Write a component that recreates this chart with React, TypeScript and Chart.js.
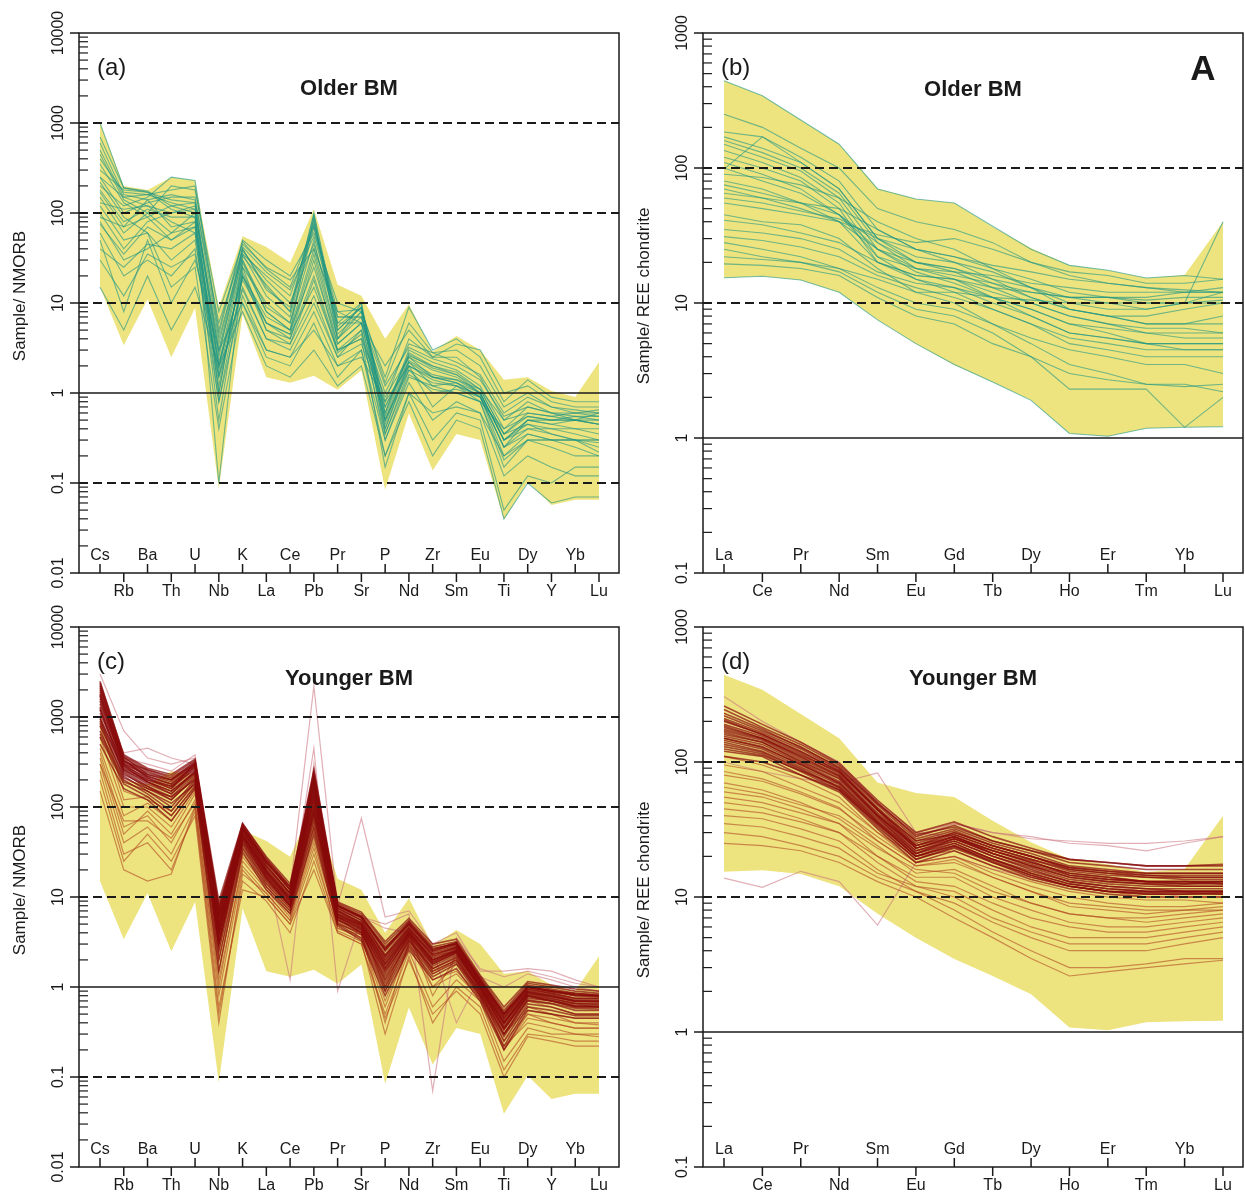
import React, { useEffect, useRef } from 'react';
import { Chart, registerables } from 'chart.js';

Chart.register(...registerables);

const FONT = '"Liberation Sans", Arial, Helvetica, sans-serif';
const YELLOW = 'rgb(237,228,128)';
const TEAL = 'rgba(28,148,132,0.6)';
const RED_DARK = 'rgba(135,10,10,0.7)';
const RED_MID = 'rgba(178,72,32,0.6)';
const RED_PALE = 'rgba(200,110,120,0.55)';

// ---------- categories / ticks ----------
const spiderElements = ['Cs', 'Rb', 'Ba', 'Th', 'U', 'Nb', 'K', 'La', 'Ce', 'Pb', 'Pr', 'Sr', 'P', 'Nd', 'Zr', 'Sm', 'Eu', 'Ti', 'Dy', 'Y', 'Yb', 'Lu'];
const reeElements = ['La', 'Ce', 'Pr', 'Nd', 'Sm', 'Eu', 'Gd', 'Tb', 'Dy', 'Ho', 'Er', 'Tm', 'Yb', 'Lu'];
const spiderTicks = [0.01, 0.1, 1, 10, 100, 1000, 10000];
const reeTicks = [0.1, 1, 10, 100, 1000];
const spiderDashed = [0.1, 10, 100, 1000];
const reeDashed = [10, 100];

// ---------- Older BM envelope (yellow field) ----------
const spiderEnvelopeUpper = [1000, 200, 180, 250, 230, 9, 55, 42, 28, 110, 16, 12, 4.0, 9.7, 2.9, 4.3, 3.0, 1.4, 1.5, 1.05, 0.9, 2.2];
const spiderEnvelopeLower = [15, 3.4, 11, 2.5, 8.8, 0.087, 7.5, 1.5, 1.3, 1.55, 1.09, 1.78, 0.084, 0.59, 0.138, 0.35, 0.3, 0.039, 0.103, 0.057, 0.065, 0.065];
const reeEnvelopeUpper = [443, 343, 227, 150, 70.6, 59, 55, 36.7, 25.4, 19, 17.5, 15.3, 16.1, 40];
const reeEnvelopeLower = [15.4, 15.8, 14.8, 12, 7.5, 5.0, 3.47, 2.6, 1.9, 1.08, 1.03, 1.18, 1.2, 1.21];

// ---------- (a) Older BM, N-MORB normalised ----------
const olderSpiderSamples = [
  [1000, 190, 175, 120, 100, 3, 40, 15, 8, 100, 6, 10, 0.5, 2.5, 1.8, 1.5, 1.0, 0.3, 0.5, 0.45, 0.5, 0.5],
  [300, 180, 170, 140, 130, 2, 35, 12, 7, 80, 5, 9, 0.6, 2.8, 2.0, 1.6, 1.1, 0.35, 0.6, 0.55, 0.6, 0.55],
  [200, 120, 150, 250, 230, 5, 50, 30, 20, 60, 10, 8, 1.5, 9, 3, 4, 2.5, 0.8, 1.4, 0.9, 0.8, 0.8],
  [150, 60, 100, 200, 180, 8, 45, 25, 18, 40, 8, 6, 2, 5, 2.5, 3.5, 3, 1, 1.2, 0.8, 0.7, 0.7],
  [100, 40, 80, 100, 120, 1, 30, 8, 5, 90, 4, 10, 0.4, 2.2, 1.5, 1.3, 0.9, 0.25, 0.4, 0.4, 0.4, 0.4],
  [500, 150, 120, 80, 60, 0.5, 20, 6, 4, 30, 3, 5, 0.3, 1.5, 1.2, 1.0, 0.8, 0.15, 0.3, 0.3, 0.3, 0.3],
  [80, 30, 40, 60, 100, 0.1, 25, 5, 4, 20, 3, 4, 0.15, 1.0, 0.3, 0.6, 0.5, 0.05, 0.12, 0.1, 0.15, 0.15],
  [50, 8, 50, 10, 30, 3, 10, 3, 2.5, 5, 2, 2.5, 0.8, 2, 0.7, 1.2, 0.8, 0.4, 0.7, 0.6, 0.5, 0.6],
  [15, 5, 20, 5, 15, 2, 8, 2, 1.5, 3, 1.2, 2, 0.2, 0.8, 0.2, 0.5, 0.4, 0.04, 0.1, 0.06, 0.07, 0.07],
  [250, 100, 130, 150, 150, 4, 35, 20, 12, 70, 7, 7, 0.8, 4, 2.5, 2.5, 1.5, 0.5, 0.8, 0.6, 0.6, 0.6],
  [400, 170, 160, 130, 110, 2.5, 40, 14, 9, 95, 5.5, 9, 0.55, 2.7, 1.9, 1.6, 1.0, 0.3, 0.5, 0.5, 0.55, 0.5],
  [120, 50, 60, 30, 50, 1.5, 15, 4, 3, 10, 2.5, 5, 0.5, 1.8, 1.0, 1.1, 0.9, 0.25, 0.5, 0.45, 0.4, 0.35],
  [60, 20, 30, 20, 40, 0.8, 12, 3, 2.5, 8, 2, 3, 0.3, 1.3, 0.5, 0.8, 0.6, 0.2, 0.35, 0.3, 0.3, 0.25],
  [180, 80, 110, 90, 90, 1.2, 25, 10, 6, 50, 4, 7, 0.6, 3, 2.2, 1.8, 1.2, 0.4, 0.55, 0.5, 0.5, 0.45],
  [90, 70, 140, 160, 140, 6, 38, 18, 10, 45, 6, 6, 1.0, 3.5, 2.8, 2.2, 1.6, 0.6, 0.9, 0.7, 0.65, 0.6],
  [700, 190, 170, 110, 90, 1.8, 30, 9, 6, 70, 4.5, 8, 0.45, 2.3, 1.6, 1.4, 1.0, 0.3, 0.45, 0.4, 0.35, 0.3],
  [350, 130, 90, 50, 70, 0.8, 20, 7, 5, 25, 3.5, 6, 0.5, 2.0, 1.4, 1.2, 0.9, 0.2, 0.3, 0.25, 0.2, 0.2],
  [40, 25, 45, 40, 60, 2.2, 18, 6, 4.5, 15, 3, 4, 0.9, 2.5, 1.5, 1.4, 1.1, 0.5, 0.6, 0.55, 0.5, 0.45],
  [220, 90, 60, 15, 25, 0.4, 10, 2.5, 2, 6, 1.5, 3, 0.2, 1.0, 0.6, 0.7, 0.6, 0.12, 0.2, 0.15, 0.12, 0.12],
  [130, 110, 120, 100, 110, 3.5, 42, 22, 14, 55, 7, 7, 1.2, 3.2, 2.4, 2.0, 1.4, 0.55, 0.7, 0.6, 0.55, 0.55],
  [600, 160, 140, 70, 80, 1.0, 28, 8, 5, 40, 4, 8, 0.35, 1.8, 1.3, 1.2, 0.95, 0.25, 0.35, 0.3, 0.3, 0.28],
  [30, 12, 35, 25, 35, 1.5, 14, 4, 3.5, 12, 2.5, 3.5, 0.7, 2.2, 1.2, 1.3, 0.9, 0.35, 0.45, 0.35, 0.3, 0.3],
  [170, 70, 90, 120, 130, 2.8, 33, 16, 8, 85, 5, 9, 0.7, 2.6, 2.0, 1.7, 1.1, 0.35, 0.55, 0.5, 0.5, 0.45],
  [450, 140, 100, 60, 70, 1.6, 22, 6, 4.5, 35, 3.5, 6, 0.4, 2.0, 1.5, 1.3, 1.0, 0.3, 0.4, 0.35, 0.3, 0.22],
  [250, 150, 160, 180, 200, 4.5, 48, 24, 15, 75, 8, 8.5, 1.3, 6, 2.8, 3, 2, 0.7, 1.0, 0.7, 0.6, 0.65],
  [75, 35, 70, 50, 80, 2, 20, 5, 3.5, 18, 2.8, 4.5, 0.35, 1.6, 1.1, 1.0, 0.8, 0.18, 0.3, 0.3, 0.25, 0.2],
];

// ---------- (b) Older BM, chondrite normalised ----------
const olderReeSamples = [
  [443, 343, 227, 150, 70, 59, 55, 37, 25, 19, 17.5, 15.3, 16, 15],
  [250, 200, 140, 100, 50, 40, 35, 28, 20, 16, 14, 13, 12, 12],
  [185, 170, 120, 80, 35, 25, 22, 18, 15, 12, 11, 10, 10, 10.5],
  [170, 140, 110, 70, 30, 20, 18, 14, 11, 9, 8, 7, 7, 7],
  [150, 120, 95, 60, 25, 17, 14, 11, 9, 7, 6.5, 6, 6, 6],
  [135, 110, 85, 55, 22, 15, 12, 9, 7, 5.5, 5, 4.5, 4.5, 4.5],
  [120, 100, 80, 50, 20, 16, 15, 13, 12, 11, 11, 10.5, 11, 11],
  [98, 170, 110, 70, 30, 22, 20, 17, 13, 11, 10, 9, 10, 12],
  [80, 70, 55, 40, 20, 15, 13, 10, 8, 6, 5.5, 5, 5, 5],
  [70, 60, 50, 40, 25, 18, 16, 14, 12, 11, 11, 11, 12, 13],
  [60, 55, 48, 42, 30, 25, 22, 19, 17, 15, 14, 13, 12.5, 12],
  [55, 50, 45, 40, 32, 28, 30, 25, 20, 17, 16, 14, 14, 15],
  [41, 38, 33, 28, 20, 16, 15, 12, 10, 8, 7, 6.5, 6.5, 6],
  [31, 29, 26, 22, 16, 13, 11, 9, 7, 5, 4.5, 4, 4, 4],
  [28, 25, 22, 18, 13, 10, 9, 7, 5.5, 4.5, 4, 3.5, 3.5, 3],
  [25, 22, 20, 18, 15, 12, 12, 11, 10.5, 10, 10, 10, 10, 10],
  [19.5, 19, 18, 16, 11, 8, 7, 5, 4, 3, 2.7, 2.5, 2.5, 2.2],
  [15.4, 15.8, 14.8, 12, 7.5, 5, 3.5, 2.6, 1.9, 1.08, 1.03, 1.18, 1.2, 1.21],
  [90, 85, 75, 60, 40, 30, 25, 18, 13, 9, 8, 8, 9, 10],
  [110, 90, 70, 45, 22, 18, 17, 16, 14, 13, 12, 12, 12, 12],
  [65, 60, 55, 50, 35, 25, 20, 15, 11, 9, 8, 7, 7, 8],
  [45, 40, 38, 30, 18, 12, 10, 7, 5, 3.5, 3, 2.5, 2.4, 2.5],
  [100, 80, 65, 45, 25, 20, 18, 15, 13, 10, 9, 9, 10, 40],
  [160, 130, 100, 65, 28, 20, 17, 13, 10, 8, 7, 6, 5.5, 5.5],
  [35, 33, 30, 25, 17, 14, 13, 11, 9, 7, 6, 5, 5, 5],
  [75, 65, 55, 45, 28, 18, 15, 11, 8, 6, 5.5, 5, 4.5, 4.5],
  [22, 21, 20, 17, 12, 9, 8, 6, 4, 2.3, 2.3, 2.3, 1.2, 2.0],
];

// ---------- (c) Younger BM, N-MORB normalised ----------
const youngerSpiderDark = [
  [2300, 350, 250, 200, 300, 6, 60, 25, 12, 200, 8, 6, 2.5, 5, 2.5, 3, 1.2, 0.5, 1.0, 0.9, 0.8, 0.8],
  [2000, 330, 220, 180, 280, 5, 55, 22, 11, 180, 7.5, 5.5, 2.2, 4.5, 2.2, 2.8, 1.1, 0.45, 0.95, 0.85, 0.75, 0.75],
  [1800, 300, 200, 170, 260, 4.5, 52, 20, 10, 160, 7, 5, 2, 4.2, 2, 2.6, 1.05, 0.4, 0.9, 0.8, 0.7, 0.7],
  [1500, 280, 190, 150, 250, 4, 50, 19, 9.5, 140, 6.5, 4.8, 1.8, 4, 1.9, 2.5, 1.0, 0.38, 0.85, 0.75, 0.65, 0.65],
  [1200, 260, 180, 140, 240, 3.5, 48, 18, 9, 120, 6.2, 4.5, 1.6, 3.8, 1.8, 2.4, 0.95, 0.35, 0.8, 0.7, 0.6, 0.6],
  [1000, 250, 170, 130, 230, 3, 45, 17, 8.5, 100, 6, 4.3, 1.5, 3.6, 1.7, 2.3, 0.9, 0.33, 0.8, 0.72, 0.62, 0.62],
  [2500, 370, 260, 220, 330, 7, 65, 28, 14, 220, 8.5, 6.5, 3, 5.5, 2.8, 3.2, 1.3, 0.55, 1.1, 1.0, 0.9, 0.85],
  [900, 240, 160, 120, 220, 2.5, 42, 16, 8, 90, 5.8, 4, 1.3, 3.4, 1.6, 2.2, 0.85, 0.3, 0.75, 0.7, 0.6, 0.6],
  [1600, 300, 230, 190, 290, 6, 58, 24, 13, 150, 7.8, 5.8, 2.3, 4.8, 2.4, 2.9, 1.15, 0.48, 0.98, 0.88, 0.8, 0.78],
  [800, 220, 150, 100, 200, 4, 40, 15, 8, 80, 5.5, 4, 1.2, 3.2, 1.5, 2.0, 0.8, 0.28, 0.7, 0.65, 0.55, 0.55],
  [2200, 340, 210, 160, 310, 8, 62, 23, 11, 250, 8, 6, 2.8, 5, 2.6, 3.1, 1.25, 0.5, 1.0, 0.9, 0.85, 0.8],
  [1300, 270, 200, 160, 270, 5.5, 55, 21, 10.5, 130, 7, 5.2, 1.9, 4.3, 2.1, 2.7, 1.1, 0.42, 0.88, 0.8, 0.7, 0.7],
  [700, 200, 140, 90, 190, 3, 38, 14, 7.5, 70, 5.2, 3.8, 1.0, 3, 1.4, 1.9, 0.8, 0.25, 0.65, 0.6, 0.5, 0.5],
  [1900, 320, 240, 200, 320, 6.5, 60, 26, 13, 190, 8.2, 6.2, 2.6, 5.2, 2.7, 3.0, 1.2, 0.52, 1.05, 0.95, 0.85, 0.82],
  [1100, 290, 210, 170, 280, 5, 56, 20, 10, 170, 7.2, 5.2, 2.1, 4.4, 2.3, 2.7, 1.1, 0.44, 0.92, 0.82, 0.72, 0.72],
  [600, 180, 130, 80, 170, 2, 35, 13, 7, 60, 5, 3.5, 0.9, 2.8, 1.3, 1.8, 0.75, 0.22, 0.6, 0.55, 0.48, 0.48],
  [2100, 360, 230, 200, 300, 7, 63, 25, 12, 210, 8, 6, 2.6, 5, 2.5, 3, 1.2, 0.5, 1.0, 0.92, 0.82, 0.8],
  [1400, 310, 220, 180, 290, 6, 57, 22, 11, 175, 7.5, 5.5, 2.2, 4.6, 2.3, 2.8, 1.15, 0.46, 0.95, 0.85, 0.75, 0.75],
  [1700, 290, 190, 140, 250, 4, 50, 19, 9.5, 140, 6.8, 5, 1.8, 4.1, 2, 2.6, 1.05, 0.4, 0.88, 0.78, 0.68, 0.68],
  [500, 160, 120, 70, 160, 1.5, 32, 12, 6.5, 50, 4.8, 3.3, 0.8, 2.6, 1.2, 1.6, 0.7, 0.2, 0.55, 0.5, 0.45, 0.45],
  [1750, 320, 260, 210, 310, 7.5, 58, 24, 12, 230, 8, 6, 2.7, 5.3, 2.6, 3.1, 1.2, 0.5, 1.0, 0.9, 0.82, 0.8],
  [950, 260, 190, 150, 240, 4.5, 50, 18, 9, 110, 6.3, 4.6, 1.7, 3.9, 1.9, 2.5, 1.0, 0.36, 0.82, 0.74, 0.66, 0.64],
  [1250, 230, 170, 120, 210, 3.8, 46, 17, 8.5, 95, 6, 4.4, 1.4, 3.7, 1.8, 2.4, 0.95, 0.34, 0.78, 0.7, 0.62, 0.6],
  [650, 190, 150, 110, 180, 3.2, 44, 16, 8, 85, 5.6, 4.2, 1.1, 3.3, 1.6, 2.1, 0.85, 0.3, 0.72, 0.66, 0.58, 0.57],
  [2400, 380, 270, 230, 340, 9, 66, 27, 13, 260, 8.8, 6.8, 3.2, 5.8, 3.0, 3.4, 1.35, 0.6, 1.15, 1.05, 0.95, 0.9],
  [850, 210, 160, 130, 200, 5, 48, 19, 9.5, 120, 6.5, 4.8, 1.6, 4, 2.0, 2.5, 1.0, 0.4, 0.85, 0.78, 0.7, 0.68],
];
const youngerSpiderMid = [
  [400, 60, 80, 40, 120, 1, 25, 12, 6, 40, 5, 4, 1.5, 3.5, 1.5, 2, 0.9, 0.25, 0.5, 0.45, 0.4, 0.4],
  [300, 40, 60, 30, 100, 0.8, 20, 10, 5, 30, 4.5, 3.5, 0.6, 3, 1.2, 1.5, 0.8, 0.2, 0.45, 0.4, 0.35, 0.35],
  [250, 30, 40, 20, 90, 0.5, 15, 9, 4, 25, 4, 3, 0.5, 2.5, 0.6, 1.2, 0.7, 0.15, 0.35, 0.3, 0.3, 0.3],
  [600, 100, 100, 60, 150, 2, 30, 14, 7, 60, 5.5, 4.5, 1.0, 3.8, 1.0, 1.8, 0.9, 0.3, 0.6, 0.5, 0.45, 0.45],
  [800, 120, 130, 80, 170, 3, 40, 16, 8, 80, 6, 5, 1.2, 4, 0.8, 2.2, 1.0, 0.2, 0.5, 0.4, 0.35, 0.35],
  [350, 50, 90, 50, 140, 1.5, 28, 13, 6.5, 45, 5, 4, 0.4, 3.2, 1.8, 2.4, 1.0, 0.3, 0.55, 0.5, 0.4, 0.38],
  [200, 25, 50, 25, 80, 0.4, 18, 11, 5.5, 35, 4.2, 3.2, 0.3, 2.2, 0.4, 1.0, 0.6, 0.12, 0.3, 0.28, 0.25, 0.25],
  [450, 80, 110, 70, 160, 2.5, 35, 15, 7.5, 70, 5.8, 4.8, 0.9, 3.6, 1.4, 2.0, 0.9, 0.35, 0.7, 0.6, 0.5, 0.5],
  [1000, 150, 120, 90, 180, 3, 45, 17, 8, 100, 6.5, 5, 2, 4.5, 2.2, 2.5, 1.0, 0.4, 0.8, 0.7, 0.65, 0.6],
  [300, 70, 70, 45, 110, 1.2, 22, 11, 5.5, 55, 4.5, 3.8, 0.7, 2.8, 1.0, 1.4, 0.75, 0.22, 0.4, 0.35, 0.3, 0.28],
  [150, 20, 15, 18, 100, 0.6, 12, 10, 5, 20, 4, 3, 0.45, 2, 0.5, 0.9, 0.5, 0.1, 0.28, 0.25, 0.22, 0.22],
];
const youngerSpiderPale = [
  [3000, 700, 350, 300, 350, 8, 65, 25, 12, 2200, 8, 75, 6, 7, 3, 4, 1.5, 1.5, 1.6, 1.5, 1.2, 1.0],
  [1500, 400, 450, 350, 300, 7, 55, 20, 9, 450, 0.9, 6, 5, 6.5, 0.07, 3.5, 1.6, 1.3, 1.5, 1.3, 1.1, 1.0],
  [1200, 350, 300, 250, 380, 6, 50, 20, 1.2, 300, 7, 6, 4.5, 4, 2.5, 0.4, 1.3, 1.0, 1.4, 1.2, 1.0, 0.9],
];

// ---------- (d) Younger BM, chondrite normalised ----------
const youngerReeDark = [
  [200, 160, 120, 85, 45, 25, 30, 24, 20, 16, 15, 14, 14, 14],
  [180, 150, 110, 80, 42, 24, 28, 22, 18, 15, 14, 13, 13, 13],
  [160, 140, 100, 75, 40, 22, 27, 21, 17, 14, 13, 12.5, 12, 12],
  [150, 130, 95, 70, 38, 22, 26, 20, 16, 13, 12, 11.5, 11.5, 11.5],
  [140, 120, 90, 65, 35, 20, 25, 19, 15, 12.5, 11.5, 11, 11, 11],
  [220, 170, 130, 90, 48, 27, 32, 25, 21, 17, 16, 15, 15, 15],
  [130, 115, 85, 62, 33, 19, 23, 18, 14, 12, 11, 10.5, 10.5, 10.5],
  [190, 155, 115, 82, 44, 26, 29, 23, 19, 15.5, 14.5, 14, 13.5, 13.5],
  [170, 145, 105, 78, 41, 23, 27, 22, 18, 15, 14, 13, 13, 12.5],
  [245, 180, 135, 95, 50, 28, 34, 26, 22, 18, 17, 16, 16, 16],
  [120, 110, 80, 60, 32, 18, 22, 17, 13.5, 11.5, 10.5, 10, 10, 10],
  [155, 135, 98, 72, 39, 21, 26, 20, 16.5, 13.5, 12.5, 12, 12, 12],
  [210, 165, 125, 88, 46, 26, 31, 24, 20, 16.5, 15.5, 14.5, 14.5, 14.5],
  [175, 148, 108, 79, 40, 23, 28, 22, 18.5, 14.5, 13.5, 13, 12.5, 13],
  [145, 125, 92, 68, 36, 20, 24, 19, 15.5, 13, 12, 11.5, 11, 11],
  [230, 175, 128, 92, 49, 29, 33, 26, 22, 19, 18, 17, 17, 17],
  [135, 118, 88, 64, 34, 19, 23.5, 18.5, 14.5, 12, 11, 10.8, 10.8, 10.5],
  [165, 140, 102, 76, 40, 24, 29, 23, 19, 16, 15, 14.5, 14, 14],
  [260, 190, 140, 98, 52, 30, 36, 28, 23, 19, 18, 17, 17, 17.5],
  [125, 112, 86, 66, 36, 21, 25, 19, 15, 12.5, 11.5, 11, 11, 11],
  [185, 150, 112, 84, 45, 24, 30, 24, 20, 16.5, 15.5, 15, 15, 15],
  [110, 100, 80, 62, 35, 20, 24, 18, 14.5, 12, 11, 10.5, 10.5, 10.8],
  [205, 160, 118, 86, 44, 23, 28, 21, 17, 14, 13, 12.5, 12.5, 12.5],
  [150, 128, 96, 70, 37, 21, 27, 21, 17.5, 14.5, 13.5, 13, 13, 13],
];
const youngerReeMid = [
  [95, 85, 65, 50, 30, 20, 22, 17, 14, 12, 11, 10, 10, 10],
  [80, 72, 58, 45, 28, 18, 20, 15, 12, 10, 9, 8.5, 8.5, 9],
  [70, 62, 50, 38, 24, 15, 16, 12, 9, 7.5, 7, 6.5, 7, 7.5],
  [60, 55, 45, 35, 20, 13, 12, 9, 7, 6, 5.5, 5.5, 6, 6.5],
  [50, 46, 38, 30, 18, 12, 10, 7, 5.5, 4.5, 4.5, 4.5, 5, 5.5],
  [40, 38, 32, 26, 16, 11, 9, 6.5, 5, 4, 4, 4, 4.5, 5],
  [35, 33, 28, 23, 15, 12, 11, 8, 6, 5, 5, 5, 5.5, 6],
  [30, 28, 24, 20, 14, 11, 8, 5.5, 4, 3, 3, 3.2, 3.5, 3.5],
  [25, 24, 22, 18, 13, 10, 7, 5, 3.5, 2.6, 2.8, 3, 3.2, 3.4],
  [110, 95, 75, 55, 30, 18, 20, 16, 13, 11, 10, 9.5, 9.5, 9],
  [65, 58, 48, 40, 26, 17, 18, 14, 11, 9, 8.5, 8, 8, 8.5],
  [45, 42, 36, 30, 20, 14, 14, 10, 8, 6.5, 6, 6, 6.5, 7],
  [55, 50, 42, 35, 23, 16, 15, 11, 9, 7.5, 7, 7, 7.5, 8],
  [85, 75, 60, 46, 26, 17, 19, 14, 11, 8.5, 8, 7.5, 8, 8],
];
const youngerReePale = [
  [305, 200, 140, 100, 50, 30, 35, 30, 27, 26, 25, 25, 26, 28],
  [13.8, 11.8, 15.5, 13, 6.2, 18, 20, 16, 14, 12, 11, 11, 10, 10],
  [100, 85, 75, 70, 83, 30, 28, 20, 16, 13, 12, 11, 11, 11],
  [200, 160, 120, 90, 50, 28, 35, 30, 28, 25, 24, 22, 25, 28],
];

// ---------- drawing helpers ----------
const decorPlugin = {
  id: 'decor',
  afterDatasetsDraw(chart: any, _args: any, o: any) {
    const { ctx, chartArea: ca } = chart;
    const xs = chart.scales.x;
    const ys = chart.scales.y;
    const L = ca.left, R = ca.right, T = ca.top, B = ca.bottom;
    const seg = (x1: number, y1: number, x2: number, y2: number) => {
      ctx.beginPath(); ctx.moveTo(x1, y1); ctx.lineTo(x2, y2); ctx.stroke();
    };
    ctx.save();
    ctx.strokeStyle = '#1a1a1a';
    ctx.fillStyle = '#1a1a1a';
    ctx.lineWidth = 1.8;
    ctx.setLineDash([9, 5]);
    o.dashed.forEach((v: number) => { const y = ys.getPixelForValue(v); seg(L, y, R, y); });
    ctx.setLineDash([]);
    ctx.lineWidth = 1.6;
    const y1 = ys.getPixelForValue(1);
    seg(L, y1, R, y1);
    ctx.lineWidth = 1.5;
    ctx.strokeRect(L, T, R - L, B - T);

    ctx.font = `16px ${FONT}`;
    o.yTicks.forEach((v: number) => {
      const y = ys.getPixelForValue(v);
      seg(L - 9, y, L, y);
      ctx.save();
      ctx.translate(L - 16, y);
      ctx.rotate(-Math.PI / 2);
      ctx.textAlign = 'center';
      ctx.textBaseline = 'alphabetic';
      ctx.fillText(String(v), 0, 0);
      ctx.restore();
    });
    ctx.lineWidth = 1.2;
    const kMin = Math.round(Math.log10(o.yTicks[0]));
    const kMax = Math.round(Math.log10(o.yTicks[o.yTicks.length - 1]));
    for (let k = kMin; k < kMax; k++) {
      for (let m = 2; m <= 9; m++) {
        const y = ys.getPixelForValue(m * Math.pow(10, k));
        seg(L, y, L + 9, y);
      }
    }

    ctx.lineWidth = 1.5;
    ctx.textAlign = 'center';
    ctx.textBaseline = 'middle';
    o.xLabels.forEach((lab: string, i: number) => {
      const x = xs.getPixelForValue(i);
      if (i % 2 === 0) { seg(x, B, x, B - 9); ctx.fillText(lab, x, B - 17); }
      else { seg(x, B, x, B + 9); ctx.fillText(lab, x, B + 19); }
    });

    ctx.textBaseline = 'alphabetic';
    ctx.font = `17px ${FONT}`;
    ctx.save();
    ctx.translate(L - 54, T + 263);
    ctx.rotate(-Math.PI / 2);
    ctx.textAlign = 'center';
    ctx.fillText(o.yTitle, 0, 0);
    ctx.restore();

    ctx.font = `24px ${FONT}`;
    ctx.textAlign = 'left';
    ctx.fillText(o.letter, L + 18, T + 42);

    ctx.font = `bold 22px ${FONT}`;
    ctx.textAlign = 'center';
    ctx.fillText(o.title, (L + R) / 2, T + o.titleDy);

    if (o.big) {
      ctx.font = `bold 35px ${FONT}`;
      ctx.fillText(o.big, R - 40, T + 47);
    }
    ctx.restore();
  },
};

type Group = { samples: number[][]; color: string; width: number; order: number };
type PanelSpec = {
  left: number; top: number; width: number; height: number;
  pad: { left: number; top: number; right: number; bottom: number };
  kind: 'spider' | 'ree';
  letter: string; title: string; titleDy: number; big?: string;
  groups: Group[];
};

const toPts = (arr: number[]) => arr.map((v, i) => ({ x: i, y: v }));

function buildConfig(p: PanelSpec): any {
  const spider = p.kind === 'spider';
  const labels = spider ? spiderElements : reeElements;
  const upper = spider ? spiderEnvelopeUpper : reeEnvelopeUpper;
  const lower = spider ? spiderEnvelopeLower : reeEnvelopeLower;
  const datasets: any[] = [
    { data: toPts(upper), fill: '+1', backgroundColor: YELLOW, borderColor: 'rgba(0,0,0,0)', borderWidth: 0, pointRadius: 0, order: 100 },
    { data: toPts(lower), fill: false, borderColor: 'rgba(0,0,0,0)', borderWidth: 0, pointRadius: 0, order: 101 },
  ];
  p.groups.forEach((g) => {
    g.samples.forEach((s) => {
      datasets.push({ data: toPts(s), fill: false, borderColor: g.color, borderWidth: g.width, pointRadius: 0, order: g.order, tension: 0 });
    });
  });
  const yTicks = spider ? spiderTicks : reeTicks;
  return {
    type: 'line',
    data: { datasets },
    options: {
      animation: false,
      responsive: false,
      devicePixelRatio: 1,
      events: [],
      layout: { padding: p.pad },
      plugins: {
        legend: { display: false },
        tooltip: { enabled: false },
        title: { display: false },
        decor: {
          dashed: spider ? spiderDashed : reeDashed,
          yTicks,
          xLabels: labels,
          yTitle: spider ? 'Sample/ NMORB' : 'Sample/ REE chondrite',
          letter: p.letter,
          title: p.title,
          titleDy: p.titleDy,
          big: p.big,
        },
      },
      scales: {
        x: { type: 'linear', min: spider ? -0.884 : -0.547, max: spider ? 21.842 : 13.521, display: false },
        y: { type: 'logarithmic', min: yTicks[0], max: yTicks[yTicks.length - 1], display: false },
      },
      elements: { point: { radius: 0 }, line: { tension: 0 } },
    },
    plugins: [decorPlugin],
  };
}

const panels: PanelSpec[] = [
  {
    left: 0, top: 0, width: 622, height: 598, pad: { left: 79, top: 33, right: 3, bottom: 25 },
    kind: 'spider', letter: '(a)', title: 'Older BM', titleDy: 62,
    groups: [{ samples: olderSpiderSamples, color: TEAL, width: 1.1, order: 1 }],
  },
  {
    left: 622, top: 0, width: 623, height: 598, pad: { left: 81, top: 33, right: 2, bottom: 25 },
    kind: 'ree', letter: '(b)', title: 'Older BM', titleDy: 63, big: 'A',
    groups: [{ samples: olderReeSamples, color: TEAL, width: 1.1, order: 1 }],
  },
  {
    left: 0, top: 598, width: 622, height: 598, pad: { left: 79, top: 29, right: 3, bottom: 29 },
    kind: 'spider', letter: '(c)', title: 'Younger BM', titleDy: 58,
    groups: [
      { samples: youngerSpiderPale, color: RED_PALE, width: 1.2, order: 3 },
      { samples: youngerSpiderMid, color: RED_MID, width: 1.2, order: 2 },
      { samples: youngerSpiderDark, color: RED_DARK, width: 1.6, order: 1 },
    ],
  },
  {
    left: 622, top: 598, width: 623, height: 598, pad: { left: 81, top: 29, right: 2, bottom: 29 },
    kind: 'ree', letter: '(d)', title: 'Younger BM', titleDy: 58,
    groups: [
      { samples: youngerReePale, color: RED_PALE, width: 1.2, order: 3 },
      { samples: youngerReeMid, color: RED_MID, width: 1.2, order: 2 },
      { samples: youngerReeDark, color: RED_DARK, width: 1.6, order: 1 },
    ],
  },
];

function Panel({ spec }: { spec: PanelSpec }) {
  const ref = useRef<HTMLCanvasElement>(null);
  useEffect(() => {
    const chart = new Chart(ref.current as HTMLCanvasElement, buildConfig(spec));
    return () => chart.destroy();
  }, [spec]);
  return (
    <canvas
      ref={ref}
      width={spec.width}
      height={spec.height}
      style={{ position: 'absolute', left: spec.left, top: spec.top, width: spec.width, height: spec.height }}
    />
  );
}

export default function App() {
  return (
    <div style={{ position: 'absolute', left: 0, top: 0, width: 1245, height: 1196, background: '#fff' }}>
      {panels.map((p, i) => <Panel key={i} spec={p} />)}
    </div>
  );
}
